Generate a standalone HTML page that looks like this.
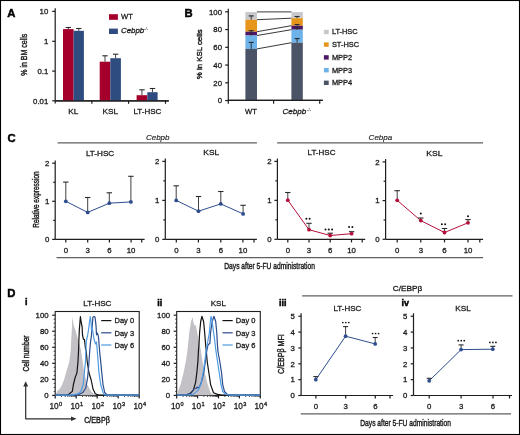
<!DOCTYPE html>
<html><head><meta charset="utf-8"><title>Figure</title>
<style>
html,body{margin:0;padding:0;background:#fff;}
body{width:520px;height:435px;overflow:hidden;}
svg{display:block;font-family:"Liberation Sans", sans-serif;will-change:transform;}
text{stroke-width:0.3px;paint-order:stroke;}
.cond{stroke-width:0.42px;}
.thin{stroke-width:0.15px;}
.bl{stroke-width:0.45px;}
</style></head>
<body>
<svg width="520" height="435" viewBox="0 0 520 435">
<rect x="0" y="0" width="520" height="435" fill="#fff"/>
<rect x="0.5" y="0.5" width="519" height="434" fill="none" stroke="#000" stroke-width="1.1"/>
<text x="7.3" y="17" font-size="11.3" font-weight="bold" fill="#000" stroke="#000" class="bl">A</text>
<line x1="55.2" y1="8.3" x2="55.2" y2="103.6" stroke="#1e1e1e" stroke-width="1.22" />
<line x1="52.2" y1="11.4" x2="55.2" y2="11.4" stroke="#1e1e1e" stroke-width="1.22" />
<text x="48.3" y="14.1" font-size="7.8" text-anchor="end" fill="#1c1c1c" stroke="#1c1c1c" >10</text>
<line x1="52.2" y1="41.3" x2="55.2" y2="41.3" stroke="#1e1e1e" stroke-width="1.22" />
<text x="48.3" y="44" font-size="7.8" text-anchor="end" fill="#1c1c1c" stroke="#1c1c1c" >1</text>
<line x1="52.2" y1="71.1" x2="55.2" y2="71.1" stroke="#1e1e1e" stroke-width="1.22" />
<text x="48.3" y="73.8" font-size="7.8" text-anchor="end" fill="#1c1c1c" stroke="#1c1c1c" >0.1</text>
<line x1="52.2" y1="100.8" x2="55.2" y2="100.8" stroke="#1e1e1e" stroke-width="1.22" />
<text x="48.3" y="103.5" font-size="7.8" text-anchor="end" fill="#1c1c1c" stroke="#1c1c1c" >0.01</text>
<line x1="55.2" y1="100.8" x2="168.8" y2="100.8" stroke="#1e1e1e" stroke-width="1.22" />
<line x1="91.9" y1="100.8" x2="91.9" y2="103.8" stroke="#1e1e1e" stroke-width="1.22" />
<line x1="128.6" y1="100.8" x2="128.6" y2="103.8" stroke="#1e1e1e" stroke-width="1.22" />
<line x1="165.5" y1="100.8" x2="165.5" y2="103.8" stroke="#1e1e1e" stroke-width="1.22" />
<rect x="63" y="29.1" width="10.6" height="71.7" fill="#a5002b"/>
<rect x="73.6" y="30.8" width="10.3" height="70" fill="#2f4c80"/>
<rect x="99.7" y="61.7" width="10.6" height="39.1" fill="#a5002b"/>
<rect x="110.3" y="58.2" width="10.6" height="42.6" fill="#2f4c80"/>
<rect x="136.6" y="95.2" width="10.7" height="5.6" fill="#a5002b"/>
<rect x="147.3" y="92.2" width="10.3" height="8.6" fill="#2f4c80"/>
<line x1="68.3" y1="29.1" x2="68.3" y2="27.5" stroke="#2a2a2a" stroke-width="0.9" />
<line x1="65.6" y1="27.5" x2="71" y2="27.5" stroke="#2a2a2a" stroke-width="1.1" />
<line x1="78.75" y1="30.8" x2="78.75" y2="28.5" stroke="#2a2a2a" stroke-width="0.9" />
<line x1="76.05" y1="28.5" x2="81.45" y2="28.5" stroke="#2a2a2a" stroke-width="1.1" />
<line x1="105" y1="61.7" x2="105" y2="55.8" stroke="#2a2a2a" stroke-width="0.9" />
<line x1="102.3" y1="55.8" x2="107.7" y2="55.8" stroke="#2a2a2a" stroke-width="1.1" />
<line x1="115.6" y1="58.2" x2="115.6" y2="54.2" stroke="#2a2a2a" stroke-width="0.9" />
<line x1="112.9" y1="54.2" x2="118.3" y2="54.2" stroke="#2a2a2a" stroke-width="1.1" />
<line x1="141.95" y1="95.2" x2="141.95" y2="89.8" stroke="#2a2a2a" stroke-width="0.9" />
<line x1="139.25" y1="89.8" x2="144.65" y2="89.8" stroke="#2a2a2a" stroke-width="1.1" />
<line x1="152.45" y1="92.2" x2="152.45" y2="88.5" stroke="#2a2a2a" stroke-width="0.9" />
<line x1="149.75" y1="88.5" x2="155.15" y2="88.5" stroke="#2a2a2a" stroke-width="1.1" />
<line x1="55.2" y1="100.8" x2="168.8" y2="100.8" stroke="#1e1e1e" stroke-width="1.22" />
<text x="73.3" y="113.7" font-size="8" text-anchor="middle" textLength="9.9" lengthAdjust="spacingAndGlyphs" fill="#1c1c1c" stroke="#1c1c1c" >KL</text>
<text x="110.3" y="113.7" font-size="8" text-anchor="middle" textLength="15.5" lengthAdjust="spacingAndGlyphs" fill="#1c1c1c" stroke="#1c1c1c" >KSL</text>
<text x="147.4" y="113.7" font-size="8" text-anchor="middle" textLength="27.8" lengthAdjust="spacingAndGlyphs" fill="#1c1c1c" stroke="#1c1c1c" >LT-HSC</text>
<rect x="109" y="14.2" width="8.9" height="5.6" fill="#a5002b"/>
<text x="121" y="18.8" font-size="7.6" fill="#1c1c1c" stroke="#1c1c1c" >WT</text>
<rect x="109" y="28.6" width="8.9" height="5.4" fill="#2f4c80"/>
<text x="121" y="32.9" font-size="7.9" font-style="italic" fill="#1c1c1c" stroke="#1c1c1c" >Cebpb</text>
<text x="144.1" y="29.6" font-size="4.4" fill="#666" stroke="#666" class="thin">-/-</text>
<text transform="translate(27.4,54.7) rotate(-90)" x="0" y="0" font-size="9.6" text-anchor="middle" textLength="42" lengthAdjust="spacingAndGlyphs" fill="#1c1c1c" stroke="#1c1c1c" class="cond">% in BM cells</text>
<text x="184.5" y="17.2" font-size="11.3" font-weight="bold" fill="#000" stroke="#000" class="bl">B</text>
<line x1="228.3" y1="8.7" x2="228.3" y2="103.7" stroke="#1e1e1e" stroke-width="1.22" />
<line x1="225.2" y1="11.8" x2="228.3" y2="11.8" stroke="#1e1e1e" stroke-width="1.22" />
<text x="222" y="14.6" font-size="7.8" text-anchor="end" fill="#1c1c1c" stroke="#1c1c1c" >100</text>
<line x1="225.2" y1="29.55" x2="228.3" y2="29.55" stroke="#1e1e1e" stroke-width="1.22" />
<text x="222" y="32.35" font-size="7.8" text-anchor="end" fill="#1c1c1c" stroke="#1c1c1c" >80</text>
<line x1="225.2" y1="47.3" x2="228.3" y2="47.3" stroke="#1e1e1e" stroke-width="1.22" />
<text x="222" y="50.1" font-size="7.8" text-anchor="end" fill="#1c1c1c" stroke="#1c1c1c" >60</text>
<line x1="225.2" y1="65.05" x2="228.3" y2="65.05" stroke="#1e1e1e" stroke-width="1.22" />
<text x="222" y="67.85" font-size="7.8" text-anchor="end" fill="#1c1c1c" stroke="#1c1c1c" >40</text>
<line x1="225.2" y1="82.8" x2="228.3" y2="82.8" stroke="#1e1e1e" stroke-width="1.22" />
<text x="222" y="85.6" font-size="7.8" text-anchor="end" fill="#1c1c1c" stroke="#1c1c1c" >20</text>
<line x1="225.2" y1="100.55" x2="228.3" y2="100.55" stroke="#1e1e1e" stroke-width="1.22" />
<text x="222" y="103.35" font-size="7.8" text-anchor="end" fill="#1c1c1c" stroke="#1c1c1c" >0</text>
<line x1="228.3" y1="100.4" x2="322.8" y2="100.4" stroke="#1e1e1e" stroke-width="1.22" />
<line x1="273.6" y1="100.4" x2="273.6" y2="103.7" stroke="#1e1e1e" stroke-width="1.22" />
<line x1="319.7" y1="100.4" x2="319.7" y2="103.7" stroke="#1e1e1e" stroke-width="1.22" />
<rect x="245.4" y="12.1" width="11.6" height="7.6" fill="#c8c7cc"/>
<rect x="245.4" y="19.7" width="11.6" height="12" fill="#e8951c"/>
<rect x="245.4" y="31.7" width="11.6" height="3.8" fill="#4b1766"/>
<rect x="245.4" y="35.5" width="11.6" height="13.4" fill="#6db2e8"/>
<rect x="245.4" y="48.9" width="11.6" height="51.5" fill="#4b5366"/>
<rect x="291.4" y="12.1" width="11.4" height="6.1" fill="#c8c7cc"/>
<rect x="291.4" y="18.2" width="11.4" height="7.5" fill="#e8951c"/>
<rect x="291.4" y="25.7" width="11.4" height="4" fill="#4b1766"/>
<rect x="291.4" y="29.7" width="11.4" height="13" fill="#6db2e8"/>
<rect x="291.4" y="42.7" width="11.4" height="57.7" fill="#4b5366"/>
<line x1="251.2" y1="19.7" x2="251.2" y2="15.9" stroke="#2a2a2a" stroke-width="0.9" />
<line x1="248.7" y1="15.9" x2="253.7" y2="15.9" stroke="#2a2a2a" stroke-width="1.1" />
<line x1="251.2" y1="35.5" x2="251.2" y2="30.7" stroke="#2a2a2a" stroke-width="0.9" />
<line x1="248.7" y1="30.7" x2="253.7" y2="30.7" stroke="#2a2a2a" stroke-width="1.1" />
<line x1="251.2" y1="48.9" x2="251.2" y2="42.4" stroke="#2a2a2a" stroke-width="0.9" />
<line x1="248.7" y1="42.4" x2="253.7" y2="42.4" stroke="#2a2a2a" stroke-width="1.1" />
<line x1="297.1" y1="18.2" x2="297.1" y2="16.5" stroke="#2a2a2a" stroke-width="0.9" />
<line x1="294.6" y1="16.5" x2="299.6" y2="16.5" stroke="#2a2a2a" stroke-width="1.1" />
<line x1="297.1" y1="25.7" x2="297.1" y2="24.5" stroke="#2a2a2a" stroke-width="0.9" />
<line x1="294.6" y1="24.5" x2="299.6" y2="24.5" stroke="#2a2a2a" stroke-width="1.1" />
<line x1="297.1" y1="29.7" x2="297.1" y2="28" stroke="#2a2a2a" stroke-width="0.9" />
<line x1="294.6" y1="28" x2="299.6" y2="28" stroke="#2a2a2a" stroke-width="1.1" />
<line x1="297.1" y1="42.7" x2="297.1" y2="38.6" stroke="#2a2a2a" stroke-width="0.9" />
<line x1="294.6" y1="38.6" x2="299.6" y2="38.6" stroke="#2a2a2a" stroke-width="1.1" />
<line x1="257" y1="11.9" x2="291.4" y2="11.9" stroke="#222" stroke-width="0.9" />
<line x1="257" y1="19.7" x2="291.4" y2="18.2" stroke="#222" stroke-width="0.9" />
<line x1="257" y1="31.7" x2="291.4" y2="25.7" stroke="#222" stroke-width="0.9" />
<line x1="257" y1="35.5" x2="291.4" y2="29.7" stroke="#222" stroke-width="0.9" />
<line x1="257" y1="48.9" x2="291.4" y2="42.7" stroke="#222" stroke-width="0.9" />
<line x1="228.3" y1="100.4" x2="322.8" y2="100.4" stroke="#1e1e1e" stroke-width="1.22" />
<text x="251" y="113.8" font-size="7.6" text-anchor="middle" fill="#1c1c1c" stroke="#1c1c1c" >WT</text>
<text x="282.5" y="113.9" font-size="8.1" font-style="italic" fill="#1c1c1c" stroke="#1c1c1c" >Cebpb</text>
<text x="307" y="110.5" font-size="4.4" fill="#666" stroke="#666" class="thin">-/-</text>
<rect x="323.9" y="29.8" width="4.8" height="4.4" fill="#c8c7cc"/>
<text x="331.9" y="34.3" font-size="7.4" fill="#1c1c1c" stroke="#1c1c1c" >LT-HSC</text>
<rect x="323.9" y="42.4" width="4.8" height="4.4" fill="#e8951c"/>
<text x="331.9" y="46.9" font-size="7.4" fill="#1c1c1c" stroke="#1c1c1c" >ST-HSC</text>
<rect x="323.9" y="55.2" width="4.8" height="4.4" fill="#4b1766"/>
<text x="331.9" y="59.7" font-size="7.4" fill="#1c1c1c" stroke="#1c1c1c" >MPP2</text>
<rect x="323.9" y="68" width="4.8" height="4.4" fill="#6db2e8"/>
<text x="331.9" y="72.5" font-size="7.4" fill="#1c1c1c" stroke="#1c1c1c" >MPP3</text>
<rect x="323.9" y="80.6" width="4.8" height="4.4" fill="#4b5366"/>
<text x="331.9" y="85.1" font-size="7.4" fill="#1c1c1c" stroke="#1c1c1c" >MPP4</text>
<text transform="translate(202.4,54.3) rotate(-90)" x="0" y="0" font-size="7.8" text-anchor="middle" textLength="49.8" lengthAdjust="spacingAndGlyphs" fill="#1c1c1c" stroke="#1c1c1c" class="cond">% in KSL cells</text>
<text x="7.5" y="141.8" font-size="11.3" font-weight="bold" fill="#000" stroke="#000" class="bl">C</text>
<line x1="57.6" y1="142.8" x2="256.9" y2="142.8" stroke="#606060" stroke-width="1.3" />
<line x1="277.1" y1="142.8" x2="483" y2="142.8" stroke="#606060" stroke-width="1.3" />
<text x="157.7" y="140.4" font-size="8" text-anchor="middle" font-style="italic" fill="#1c1c1c" stroke="#1c1c1c" class="thin">Cebpb</text>
<text x="380.4" y="140.4" font-size="8" text-anchor="middle" font-style="italic" fill="#1c1c1c" stroke="#1c1c1c" class="thin">Cebpa</text>
<line x1="55.2" y1="160.4" x2="55.2" y2="239.4" stroke="#1e1e1e" stroke-width="1.22" />
<line x1="52.2" y1="239.4" x2="55.2" y2="239.4" stroke="#1e1e1e" stroke-width="1.22" />
<text x="49.3" y="242.2" font-size="7.8" text-anchor="end" fill="#1c1c1c" stroke="#1c1c1c" >0</text>
<line x1="53.2" y1="220.35" x2="55.2" y2="220.35" stroke="#1e1e1e" stroke-width="1.22" />
<line x1="52.2" y1="201.3" x2="55.2" y2="201.3" stroke="#1e1e1e" stroke-width="1.22" />
<text x="49.3" y="204.1" font-size="7.8" text-anchor="end" fill="#1c1c1c" stroke="#1c1c1c" >1</text>
<line x1="53.2" y1="182.25" x2="55.2" y2="182.25" stroke="#1e1e1e" stroke-width="1.22" />
<line x1="52.2" y1="163.2" x2="55.2" y2="163.2" stroke="#1e1e1e" stroke-width="1.22" />
<text x="49.3" y="166" font-size="7.8" text-anchor="end" fill="#1c1c1c" stroke="#1c1c1c" >2</text>
<line x1="55.2" y1="239.4" x2="144.6" y2="239.4" stroke="#1e1e1e" stroke-width="1.22" />
<line x1="65.8" y1="239.4" x2="65.8" y2="242.5" stroke="#1e1e1e" stroke-width="1.22" />
<line x1="87.7" y1="239.4" x2="87.7" y2="242.5" stroke="#1e1e1e" stroke-width="1.22" />
<line x1="109.4" y1="239.4" x2="109.4" y2="242.5" stroke="#1e1e1e" stroke-width="1.22" />
<line x1="131.1" y1="239.4" x2="131.1" y2="242.5" stroke="#1e1e1e" stroke-width="1.22" />
<line x1="141.7" y1="239.4" x2="141.7" y2="242.5" stroke="#1e1e1e" stroke-width="1.22" />
<text x="65.8" y="253" font-size="7.8" text-anchor="middle" fill="#1c1c1c" stroke="#1c1c1c" >0</text>
<text x="87.7" y="253" font-size="7.8" text-anchor="middle" fill="#1c1c1c" stroke="#1c1c1c" >3</text>
<text x="109.4" y="253" font-size="7.8" text-anchor="middle" fill="#1c1c1c" stroke="#1c1c1c" >6</text>
<text x="131.1" y="253" font-size="7.8" text-anchor="middle" fill="#1c1c1c" stroke="#1c1c1c" >10</text>
<text x="100.1" y="156.1" font-size="7.9" text-anchor="middle" textLength="28.3" lengthAdjust="spacingAndGlyphs" fill="#1c1c1c" stroke="#1c1c1c" >LT-HSC</text>
<polyline points="65.8,201.3 87.7,212.4 109.3,203.2 130.9,201.9" fill="none" stroke="#2e4d8e" stroke-width="1" stroke-linejoin="round" />
<line x1="65.8" y1="201.3" x2="65.8" y2="182.1" stroke="#2a2a2a" stroke-width="0.9" />
<line x1="63.1" y1="182.1" x2="68.5" y2="182.1" stroke="#2a2a2a" stroke-width="1.1" />
<line x1="87.7" y1="212.4" x2="87.7" y2="197.5" stroke="#2a2a2a" stroke-width="0.9" />
<line x1="85" y1="197.5" x2="90.4" y2="197.5" stroke="#2a2a2a" stroke-width="1.1" />
<line x1="109.3" y1="203.2" x2="109.3" y2="192.8" stroke="#2a2a2a" stroke-width="0.9" />
<line x1="106.6" y1="192.8" x2="112" y2="192.8" stroke="#2a2a2a" stroke-width="1.1" />
<line x1="130.9" y1="201.9" x2="130.9" y2="176.3" stroke="#2a2a2a" stroke-width="0.9" />
<line x1="128.2" y1="176.3" x2="133.6" y2="176.3" stroke="#2a2a2a" stroke-width="1.1" />
<circle cx="65.8" cy="201.3" r="1.9" fill="#2e4d8e"/>
<circle cx="87.7" cy="212.4" r="1.9" fill="#2e4d8e"/>
<circle cx="109.3" cy="203.2" r="1.9" fill="#2e4d8e"/>
<circle cx="130.9" cy="201.9" r="1.9" fill="#2e4d8e"/>
<line x1="165.3" y1="158.6" x2="165.3" y2="239.4" stroke="#1e1e1e" stroke-width="1.22" />
<line x1="162.3" y1="239.4" x2="165.3" y2="239.4" stroke="#1e1e1e" stroke-width="1.22" />
<text x="159.4" y="242.2" font-size="7.8" text-anchor="end" fill="#1c1c1c" stroke="#1c1c1c" >0</text>
<line x1="163.3" y1="219.9" x2="165.3" y2="219.9" stroke="#1e1e1e" stroke-width="1.22" />
<line x1="162.3" y1="200.4" x2="165.3" y2="200.4" stroke="#1e1e1e" stroke-width="1.22" />
<text x="159.4" y="203.2" font-size="7.8" text-anchor="end" fill="#1c1c1c" stroke="#1c1c1c" >1</text>
<line x1="163.3" y1="180.9" x2="165.3" y2="180.9" stroke="#1e1e1e" stroke-width="1.22" />
<line x1="162.3" y1="161.4" x2="165.3" y2="161.4" stroke="#1e1e1e" stroke-width="1.22" />
<text x="159.4" y="164.2" font-size="7.8" text-anchor="end" fill="#1c1c1c" stroke="#1c1c1c" >2</text>
<line x1="165.3" y1="239.4" x2="256.9" y2="239.4" stroke="#1e1e1e" stroke-width="1.22" />
<line x1="176.3" y1="239.4" x2="176.3" y2="242.5" stroke="#1e1e1e" stroke-width="1.22" />
<line x1="198.4" y1="239.4" x2="198.4" y2="242.5" stroke="#1e1e1e" stroke-width="1.22" />
<line x1="220.8" y1="239.4" x2="220.8" y2="242.5" stroke="#1e1e1e" stroke-width="1.22" />
<line x1="242.9" y1="239.4" x2="242.9" y2="242.5" stroke="#1e1e1e" stroke-width="1.22" />
<line x1="254" y1="239.4" x2="254" y2="242.5" stroke="#1e1e1e" stroke-width="1.22" />
<text x="176.3" y="253" font-size="7.8" text-anchor="middle" fill="#1c1c1c" stroke="#1c1c1c" >0</text>
<text x="198.4" y="253" font-size="7.8" text-anchor="middle" fill="#1c1c1c" stroke="#1c1c1c" >3</text>
<text x="220.8" y="253" font-size="7.8" text-anchor="middle" fill="#1c1c1c" stroke="#1c1c1c" >6</text>
<text x="242.9" y="253" font-size="7.8" text-anchor="middle" fill="#1c1c1c" stroke="#1c1c1c" >10</text>
<text x="211.3" y="154.7" font-size="7.9" text-anchor="middle" textLength="15.9" lengthAdjust="spacingAndGlyphs" fill="#1c1c1c" stroke="#1c1c1c" >KSL</text>
<polyline points="176.2,200.4 198.5,211.2 220.8,203.9 243.1,213.9" fill="none" stroke="#2e4d8e" stroke-width="1" stroke-linejoin="round" />
<line x1="176.2" y1="200.4" x2="176.2" y2="185.8" stroke="#2a2a2a" stroke-width="0.9" />
<line x1="173.5" y1="185.8" x2="178.9" y2="185.8" stroke="#2a2a2a" stroke-width="1.1" />
<line x1="198.5" y1="211.2" x2="198.5" y2="196.5" stroke="#2a2a2a" stroke-width="0.9" />
<line x1="195.8" y1="196.5" x2="201.2" y2="196.5" stroke="#2a2a2a" stroke-width="1.1" />
<line x1="220.8" y1="203.9" x2="220.8" y2="191.5" stroke="#2a2a2a" stroke-width="0.9" />
<line x1="218.1" y1="191.5" x2="223.5" y2="191.5" stroke="#2a2a2a" stroke-width="1.1" />
<line x1="243.1" y1="213.9" x2="243.1" y2="205.3" stroke="#2a2a2a" stroke-width="0.9" />
<line x1="240.4" y1="205.3" x2="245.8" y2="205.3" stroke="#2a2a2a" stroke-width="1.1" />
<circle cx="176.2" cy="200.4" r="1.9" fill="#2e4d8e"/>
<circle cx="198.5" cy="211.2" r="1.9" fill="#2e4d8e"/>
<circle cx="220.8" cy="203.9" r="1.9" fill="#2e4d8e"/>
<circle cx="243.1" cy="213.9" r="1.9" fill="#2e4d8e"/>
<line x1="277.4" y1="158.6" x2="277.4" y2="239.3" stroke="#1e1e1e" stroke-width="1.22" />
<line x1="274.4" y1="239.3" x2="277.4" y2="239.3" stroke="#1e1e1e" stroke-width="1.22" />
<text x="271.5" y="242.1" font-size="7.8" text-anchor="end" fill="#1c1c1c" stroke="#1c1c1c" >0</text>
<line x1="275.4" y1="219.83" x2="277.4" y2="219.83" stroke="#1e1e1e" stroke-width="1.22" />
<line x1="274.4" y1="200.35" x2="277.4" y2="200.35" stroke="#1e1e1e" stroke-width="1.22" />
<text x="271.5" y="203.15" font-size="7.8" text-anchor="end" fill="#1c1c1c" stroke="#1c1c1c" >1</text>
<line x1="275.4" y1="180.88" x2="277.4" y2="180.88" stroke="#1e1e1e" stroke-width="1.22" />
<line x1="274.4" y1="161.4" x2="277.4" y2="161.4" stroke="#1e1e1e" stroke-width="1.22" />
<text x="271.5" y="164.2" font-size="7.8" text-anchor="end" fill="#1c1c1c" stroke="#1c1c1c" >2</text>
<line x1="277.4" y1="239.3" x2="365.2" y2="239.3" stroke="#1e1e1e" stroke-width="1.22" />
<line x1="287.8" y1="239.3" x2="287.8" y2="242.4" stroke="#1e1e1e" stroke-width="1.22" />
<line x1="309" y1="239.3" x2="309" y2="242.4" stroke="#1e1e1e" stroke-width="1.22" />
<line x1="330.2" y1="239.3" x2="330.2" y2="242.4" stroke="#1e1e1e" stroke-width="1.22" />
<line x1="351.5" y1="239.3" x2="351.5" y2="242.4" stroke="#1e1e1e" stroke-width="1.22" />
<line x1="362.2" y1="239.3" x2="362.2" y2="242.4" stroke="#1e1e1e" stroke-width="1.22" />
<text x="287.8" y="253" font-size="7.8" text-anchor="middle" fill="#1c1c1c" stroke="#1c1c1c" >0</text>
<text x="309" y="253" font-size="7.8" text-anchor="middle" fill="#1c1c1c" stroke="#1c1c1c" >3</text>
<text x="330.2" y="253" font-size="7.8" text-anchor="middle" fill="#1c1c1c" stroke="#1c1c1c" >6</text>
<text x="351.5" y="253" font-size="7.8" text-anchor="middle" fill="#1c1c1c" stroke="#1c1c1c" >10</text>
<text x="321.5" y="154.5" font-size="7.9" text-anchor="middle" textLength="27.9" lengthAdjust="spacingAndGlyphs" fill="#1c1c1c" stroke="#1c1c1c" >LT-HSC</text>
<polyline points="287.8,200.2 309,229.7 330.2,235.5 351.6,233.7" fill="none" stroke="#b3113b" stroke-width="1" stroke-linejoin="round" />
<line x1="287.8" y1="200.2" x2="287.8" y2="192.5" stroke="#2a2a2a" stroke-width="0.9" />
<line x1="285.1" y1="192.5" x2="290.5" y2="192.5" stroke="#2a2a2a" stroke-width="1.1" />
<line x1="309" y1="229.7" x2="309" y2="223.3" stroke="#2a2a2a" stroke-width="0.9" />
<line x1="306.3" y1="223.3" x2="311.7" y2="223.3" stroke="#2a2a2a" stroke-width="1.1" />
<line x1="330.2" y1="235.5" x2="330.2" y2="233.2" stroke="#2a2a2a" stroke-width="0.9" />
<line x1="327.5" y1="233.2" x2="332.9" y2="233.2" stroke="#2a2a2a" stroke-width="1.1" />
<line x1="351.6" y1="233.7" x2="351.6" y2="231.7" stroke="#2a2a2a" stroke-width="0.9" />
<line x1="348.9" y1="231.7" x2="354.3" y2="231.7" stroke="#2a2a2a" stroke-width="1.1" />
<circle cx="287.8" cy="200.2" r="1.9" fill="#b3113b"/>
<circle cx="309" cy="229.7" r="1.9" fill="#b3113b"/>
<circle cx="330.2" cy="235.5" r="1.9" fill="#b3113b"/>
<circle cx="351.6" cy="233.7" r="1.9" fill="#b3113b"/>
<circle cx="306.35" cy="218.7" r="1" fill="#111"/>
<circle cx="309.65" cy="218.7" r="1" fill="#111"/>
<circle cx="325.5" cy="229.4" r="1" fill="#111"/>
<circle cx="328.8" cy="229.4" r="1" fill="#111"/>
<circle cx="332.1" cy="229.4" r="1" fill="#111"/>
<circle cx="349.05" cy="226.9" r="1" fill="#111"/>
<circle cx="352.35" cy="226.9" r="1" fill="#111"/>
<line x1="385.6" y1="159.1" x2="385.6" y2="239.3" stroke="#1e1e1e" stroke-width="1.22" />
<line x1="382.6" y1="239.3" x2="385.6" y2="239.3" stroke="#1e1e1e" stroke-width="1.22" />
<text x="379.7" y="242.1" font-size="7.8" text-anchor="end" fill="#1c1c1c" stroke="#1c1c1c" >0</text>
<line x1="383.6" y1="219.95" x2="385.6" y2="219.95" stroke="#1e1e1e" stroke-width="1.22" />
<line x1="382.6" y1="200.6" x2="385.6" y2="200.6" stroke="#1e1e1e" stroke-width="1.22" />
<text x="379.7" y="203.4" font-size="7.8" text-anchor="end" fill="#1c1c1c" stroke="#1c1c1c" >1</text>
<line x1="383.6" y1="181.25" x2="385.6" y2="181.25" stroke="#1e1e1e" stroke-width="1.22" />
<line x1="382.6" y1="161.9" x2="385.6" y2="161.9" stroke="#1e1e1e" stroke-width="1.22" />
<text x="379.7" y="164.7" font-size="7.8" text-anchor="end" fill="#1c1c1c" stroke="#1c1c1c" >2</text>
<line x1="385.6" y1="239.3" x2="483.1" y2="239.3" stroke="#1e1e1e" stroke-width="1.22" />
<line x1="397.2" y1="239.3" x2="397.2" y2="242.4" stroke="#1e1e1e" stroke-width="1.22" />
<line x1="420.8" y1="239.3" x2="420.8" y2="242.4" stroke="#1e1e1e" stroke-width="1.22" />
<line x1="444.5" y1="239.3" x2="444.5" y2="242.4" stroke="#1e1e1e" stroke-width="1.22" />
<line x1="468" y1="239.3" x2="468" y2="242.4" stroke="#1e1e1e" stroke-width="1.22" />
<line x1="479.8" y1="239.3" x2="479.8" y2="242.4" stroke="#1e1e1e" stroke-width="1.22" />
<text x="397.2" y="253" font-size="7.8" text-anchor="middle" fill="#1c1c1c" stroke="#1c1c1c" >0</text>
<text x="420.8" y="253" font-size="7.8" text-anchor="middle" fill="#1c1c1c" stroke="#1c1c1c" >3</text>
<text x="444.5" y="253" font-size="7.8" text-anchor="middle" fill="#1c1c1c" stroke="#1c1c1c" >6</text>
<text x="468" y="253" font-size="7.8" text-anchor="middle" fill="#1c1c1c" stroke="#1c1c1c" >10</text>
<text x="434.4" y="155.7" font-size="7.9" text-anchor="middle" textLength="16.1" lengthAdjust="spacingAndGlyphs" fill="#1c1c1c" stroke="#1c1c1c" >KSL</text>
<polyline points="397.2,200.3 420.8,220.6 444.5,232.5 468,222.8" fill="none" stroke="#b3113b" stroke-width="1" stroke-linejoin="round" />
<line x1="397.2" y1="200.3" x2="397.2" y2="190.7" stroke="#2a2a2a" stroke-width="0.9" />
<line x1="394.5" y1="190.7" x2="399.9" y2="190.7" stroke="#2a2a2a" stroke-width="1.1" />
<line x1="420.8" y1="220.6" x2="420.8" y2="218" stroke="#2a2a2a" stroke-width="0.9" />
<line x1="418.1" y1="218" x2="423.5" y2="218" stroke="#2a2a2a" stroke-width="1.1" />
<line x1="444.5" y1="232.5" x2="444.5" y2="228.5" stroke="#2a2a2a" stroke-width="0.9" />
<line x1="441.8" y1="228.5" x2="447.2" y2="228.5" stroke="#2a2a2a" stroke-width="1.1" />
<line x1="468" y1="222.8" x2="468" y2="219.6" stroke="#2a2a2a" stroke-width="0.9" />
<line x1="465.3" y1="219.6" x2="470.7" y2="219.6" stroke="#2a2a2a" stroke-width="1.1" />
<circle cx="397.2" cy="200.3" r="1.9" fill="#b3113b"/>
<circle cx="420.8" cy="220.6" r="1.9" fill="#b3113b"/>
<circle cx="444.5" cy="232.5" r="1.9" fill="#b3113b"/>
<circle cx="468" cy="222.8" r="1.9" fill="#b3113b"/>
<circle cx="420.8" cy="213.5" r="1" fill="#111"/>
<circle cx="441.85" cy="224.3" r="1" fill="#111"/>
<circle cx="445.15" cy="224.3" r="1" fill="#111"/>
<circle cx="468" cy="216.2" r="1" fill="#111"/>
<text transform="translate(39,199.6) rotate(-90)" x="0" y="0" font-size="9" text-anchor="middle" textLength="56.4" lengthAdjust="spacingAndGlyphs" fill="#1c1c1c" stroke="#1c1c1c" class="cond">Relative expression</text>
<line x1="56.5" y1="257.7" x2="483.1" y2="257.7" stroke="#606060" stroke-width="1.3" />
<text x="269.6" y="268.9" font-size="9.4" text-anchor="middle" textLength="90.6" lengthAdjust="spacingAndGlyphs" fill="#1c1c1c" stroke="#1c1c1c" class="cond">Days after 5-FU administration</text>
<text x="7.3" y="297.3" font-size="11.3" font-weight="bold" fill="#000" stroke="#000" class="bl">D</text>
<text x="25" y="305.4" font-size="9" font-weight="bold" fill="#000" stroke="#000" class="bl">i</text>
<text x="157.2" y="305.6" font-size="9" font-weight="bold" fill="#000" stroke="#000" class="bl">ii</text>
<text x="279.1" y="305.6" font-size="9" font-weight="bold" fill="#000" stroke="#000" class="bl">iii</text>
<text x="401.4" y="305.8" font-size="9" font-weight="bold" fill="#000" stroke="#000" class="bl">iv</text>
<rect x="55.2" y="311.5" width="84" height="83.9" fill="none" stroke="#1e1e1e" stroke-width="1.1"/>
<line x1="52.2" y1="395.4" x2="55.2" y2="395.4" stroke="#1e1e1e" stroke-width="1.22" />
<text x="48.6" y="397.8" font-size="7.8" text-anchor="end" fill="#1c1c1c" stroke="#1c1c1c" >0</text>
<line x1="53.6" y1="391.39" x2="55.2" y2="391.39" stroke="#1e1e1e" stroke-width="0.8" />
<line x1="53.6" y1="387.38" x2="55.2" y2="387.38" stroke="#1e1e1e" stroke-width="0.8" />
<line x1="53.6" y1="383.37" x2="55.2" y2="383.37" stroke="#1e1e1e" stroke-width="0.8" />
<line x1="52.2" y1="379.36" x2="55.2" y2="379.36" stroke="#1e1e1e" stroke-width="1.22" />
<text x="48.6" y="381.76" font-size="7.8" text-anchor="end" fill="#1c1c1c" stroke="#1c1c1c" >20</text>
<line x1="53.6" y1="375.35" x2="55.2" y2="375.35" stroke="#1e1e1e" stroke-width="0.8" />
<line x1="53.6" y1="371.34" x2="55.2" y2="371.34" stroke="#1e1e1e" stroke-width="0.8" />
<line x1="53.6" y1="367.33" x2="55.2" y2="367.33" stroke="#1e1e1e" stroke-width="0.8" />
<line x1="52.2" y1="363.32" x2="55.2" y2="363.32" stroke="#1e1e1e" stroke-width="1.22" />
<text x="48.6" y="365.72" font-size="7.8" text-anchor="end" fill="#1c1c1c" stroke="#1c1c1c" >40</text>
<line x1="53.6" y1="359.31" x2="55.2" y2="359.31" stroke="#1e1e1e" stroke-width="0.8" />
<line x1="53.6" y1="355.3" x2="55.2" y2="355.3" stroke="#1e1e1e" stroke-width="0.8" />
<line x1="53.6" y1="351.29" x2="55.2" y2="351.29" stroke="#1e1e1e" stroke-width="0.8" />
<line x1="52.2" y1="347.28" x2="55.2" y2="347.28" stroke="#1e1e1e" stroke-width="1.22" />
<text x="48.6" y="349.68" font-size="7.8" text-anchor="end" fill="#1c1c1c" stroke="#1c1c1c" >60</text>
<line x1="53.6" y1="343.27" x2="55.2" y2="343.27" stroke="#1e1e1e" stroke-width="0.8" />
<line x1="53.6" y1="339.26" x2="55.2" y2="339.26" stroke="#1e1e1e" stroke-width="0.8" />
<line x1="53.6" y1="335.25" x2="55.2" y2="335.25" stroke="#1e1e1e" stroke-width="0.8" />
<line x1="52.2" y1="331.24" x2="55.2" y2="331.24" stroke="#1e1e1e" stroke-width="1.22" />
<text x="48.6" y="333.64" font-size="7.8" text-anchor="end" fill="#1c1c1c" stroke="#1c1c1c" >80</text>
<line x1="53.6" y1="327.23" x2="55.2" y2="327.23" stroke="#1e1e1e" stroke-width="0.8" />
<line x1="53.6" y1="323.22" x2="55.2" y2="323.22" stroke="#1e1e1e" stroke-width="0.8" />
<line x1="53.6" y1="319.21" x2="55.2" y2="319.21" stroke="#1e1e1e" stroke-width="0.8" />
<line x1="52.2" y1="315.2" x2="55.2" y2="315.2" stroke="#1e1e1e" stroke-width="1.22" />
<text x="48.6" y="317.6" font-size="7.8" text-anchor="end" fill="#1c1c1c" stroke="#1c1c1c" >100</text>
<line x1="55.2" y1="395.4" x2="55.2" y2="398.4" stroke="#1e1e1e" stroke-width="1.22" />
<line x1="61.52" y1="395.4" x2="61.52" y2="397" stroke="#1e1e1e" stroke-width="0.8" />
<line x1="65.22" y1="395.4" x2="65.22" y2="397" stroke="#1e1e1e" stroke-width="0.8" />
<line x1="67.84" y1="395.4" x2="67.84" y2="397" stroke="#1e1e1e" stroke-width="0.8" />
<line x1="69.88" y1="395.4" x2="69.88" y2="397" stroke="#1e1e1e" stroke-width="0.8" />
<line x1="71.54" y1="395.4" x2="71.54" y2="397" stroke="#1e1e1e" stroke-width="0.8" />
<line x1="72.95" y1="395.4" x2="72.95" y2="397" stroke="#1e1e1e" stroke-width="0.8" />
<line x1="74.16" y1="395.4" x2="74.16" y2="397" stroke="#1e1e1e" stroke-width="0.8" />
<line x1="75.24" y1="395.4" x2="75.24" y2="397" stroke="#1e1e1e" stroke-width="0.8" />
<line x1="76.2" y1="395.4" x2="76.2" y2="398.4" stroke="#1e1e1e" stroke-width="1.22" />
<line x1="82.52" y1="395.4" x2="82.52" y2="397" stroke="#1e1e1e" stroke-width="0.8" />
<line x1="86.22" y1="395.4" x2="86.22" y2="397" stroke="#1e1e1e" stroke-width="0.8" />
<line x1="88.84" y1="395.4" x2="88.84" y2="397" stroke="#1e1e1e" stroke-width="0.8" />
<line x1="90.88" y1="395.4" x2="90.88" y2="397" stroke="#1e1e1e" stroke-width="0.8" />
<line x1="92.54" y1="395.4" x2="92.54" y2="397" stroke="#1e1e1e" stroke-width="0.8" />
<line x1="93.95" y1="395.4" x2="93.95" y2="397" stroke="#1e1e1e" stroke-width="0.8" />
<line x1="95.16" y1="395.4" x2="95.16" y2="397" stroke="#1e1e1e" stroke-width="0.8" />
<line x1="96.24" y1="395.4" x2="96.24" y2="397" stroke="#1e1e1e" stroke-width="0.8" />
<line x1="97.2" y1="395.4" x2="97.2" y2="398.4" stroke="#1e1e1e" stroke-width="1.22" />
<line x1="103.52" y1="395.4" x2="103.52" y2="397" stroke="#1e1e1e" stroke-width="0.8" />
<line x1="107.22" y1="395.4" x2="107.22" y2="397" stroke="#1e1e1e" stroke-width="0.8" />
<line x1="109.84" y1="395.4" x2="109.84" y2="397" stroke="#1e1e1e" stroke-width="0.8" />
<line x1="111.88" y1="395.4" x2="111.88" y2="397" stroke="#1e1e1e" stroke-width="0.8" />
<line x1="113.54" y1="395.4" x2="113.54" y2="397" stroke="#1e1e1e" stroke-width="0.8" />
<line x1="114.95" y1="395.4" x2="114.95" y2="397" stroke="#1e1e1e" stroke-width="0.8" />
<line x1="116.16" y1="395.4" x2="116.16" y2="397" stroke="#1e1e1e" stroke-width="0.8" />
<line x1="117.24" y1="395.4" x2="117.24" y2="397" stroke="#1e1e1e" stroke-width="0.8" />
<line x1="118.2" y1="395.4" x2="118.2" y2="398.4" stroke="#1e1e1e" stroke-width="1.22" />
<line x1="124.52" y1="395.4" x2="124.52" y2="397" stroke="#1e1e1e" stroke-width="0.8" />
<line x1="128.22" y1="395.4" x2="128.22" y2="397" stroke="#1e1e1e" stroke-width="0.8" />
<line x1="130.84" y1="395.4" x2="130.84" y2="397" stroke="#1e1e1e" stroke-width="0.8" />
<line x1="132.88" y1="395.4" x2="132.88" y2="397" stroke="#1e1e1e" stroke-width="0.8" />
<line x1="134.54" y1="395.4" x2="134.54" y2="397" stroke="#1e1e1e" stroke-width="0.8" />
<line x1="135.95" y1="395.4" x2="135.95" y2="397" stroke="#1e1e1e" stroke-width="0.8" />
<line x1="137.16" y1="395.4" x2="137.16" y2="397" stroke="#1e1e1e" stroke-width="0.8" />
<line x1="138.24" y1="395.4" x2="138.24" y2="397" stroke="#1e1e1e" stroke-width="0.8" />
<line x1="139.2" y1="395.4" x2="139.2" y2="398.4" stroke="#1e1e1e" stroke-width="1.22" />
<text x="54" y="408.7" font-size="8.2" text-anchor="middle" fill="#1c1c1c" stroke="#1c1c1c" >10</text>
<text x="59" y="405.6" font-size="5.6" fill="#1c1c1c" stroke="#1c1c1c" >0</text>
<text x="75" y="408.7" font-size="8.2" text-anchor="middle" fill="#1c1c1c" stroke="#1c1c1c" >10</text>
<text x="80" y="405.6" font-size="5.6" fill="#1c1c1c" stroke="#1c1c1c" >1</text>
<text x="96" y="408.7" font-size="8.2" text-anchor="middle" fill="#1c1c1c" stroke="#1c1c1c" >10</text>
<text x="101" y="405.6" font-size="5.6" fill="#1c1c1c" stroke="#1c1c1c" >2</text>
<text x="117" y="408.7" font-size="8.2" text-anchor="middle" fill="#1c1c1c" stroke="#1c1c1c" >10</text>
<text x="122" y="405.6" font-size="5.6" fill="#1c1c1c" stroke="#1c1c1c" >3</text>
<text x="138" y="408.7" font-size="8.2" text-anchor="middle" fill="#1c1c1c" stroke="#1c1c1c" >10</text>
<text x="143" y="405.6" font-size="5.6" fill="#1c1c1c" stroke="#1c1c1c" >4</text>
<text x="97.4" y="306.2" font-size="7.9" text-anchor="middle" textLength="28.1" lengthAdjust="spacingAndGlyphs" fill="#1c1c1c" stroke="#1c1c1c" >LT-HSC</text>
<polygon points="55.6,395.2 56.2,393.2 57.3,391 59.6,389 61.5,386 64,380 66.6,370.7 69.3,361.5 70.6,352 71.2,340 71.8,330.4 72.1,322 72.4,317 73.8,325.8 75.6,330.4 77.3,337 79,343 81,350 82.6,361.5 84.3,373 87.2,384.5 91.2,391.4 94.1,394.3 96.5,395.2" fill="#c3c1c6" stroke="none" />
<polyline points="55.6,395.2 66,395.1 68.8,394.3 72.3,391.4 73.4,384.5 75.1,377.6 76.9,373 78,361.5 78.6,350 78.9,339.6 79.3,330.4 79.8,324 80.4,316.6 81.3,323 82.1,326.7 82.5,335 83.4,339.1 84.4,339.6 84.8,342.3 85.5,348.8 86.1,350 87.2,361.5 89,373 91.2,380 93,389 95.3,393.7 98.5,395.1 139,395.2" fill="none" stroke="#121212" stroke-width="1.2" stroke-linejoin="round" />
<polyline points="55.6,395.2 75,395.1 79.2,394.3 82.9,392.5 85.7,388 87.5,378.7 88.6,367 89.8,350 90.5,342 91.4,335.8 92.3,325 92.9,317.2 94,316.4 95,317 95.6,322 96,325.5 96.5,334.8 97.3,333 98.1,335.3 98.6,338 99.5,350 100.7,361.5 101.8,373 103,384.5 104.7,392.5 107,394.8 111,395.2 139,395.2" fill="none" stroke="#2b4b8b" stroke-width="1.2" stroke-linejoin="round" />
<polyline points="55.6,395.2 72,395.1 78,393.8 80.9,391.4 83.2,384.5 84.3,373 85.5,361.5 86,350 86.3,341 87.5,336 88.5,330 89.5,322 90.3,316.7 91,322 91.5,330 92.3,328 93,333 94,339 95.5,344 96.5,342 97.2,350 99,373 100.7,384.5 103,392.5 104.7,394.8 108,395.2 139,395.2" fill="none" stroke="#4f9ae0" stroke-width="1.2" stroke-linejoin="round" />
<line x1="101.2" y1="320.6" x2="111.4" y2="320.6" stroke="#121212" stroke-width="1.2" />
<text x="114.5" y="323.4" font-size="7.5" fill="#1c1c1c" stroke="#1c1c1c" >Day 0</text>
<line x1="101.2" y1="332.8" x2="111.4" y2="332.8" stroke="#2b4b8b" stroke-width="1.2" />
<text x="114.5" y="335.6" font-size="7.5" fill="#1c1c1c" stroke="#1c1c1c" >Day 3</text>
<line x1="101.2" y1="345" x2="111.4" y2="345" stroke="#4f9ae0" stroke-width="1.2" />
<text x="114.5" y="347.8" font-size="7.5" fill="#1c1c1c" stroke="#1c1c1c" >Day 6</text>
<rect x="176.7" y="311.5" width="83.6" height="83.9" fill="none" stroke="#1e1e1e" stroke-width="1.1"/>
<line x1="173.7" y1="395.4" x2="176.7" y2="395.4" stroke="#1e1e1e" stroke-width="1.22" />
<text x="170.1" y="397.8" font-size="7.8" text-anchor="end" fill="#1c1c1c" stroke="#1c1c1c" >0</text>
<line x1="175.1" y1="391.39" x2="176.7" y2="391.39" stroke="#1e1e1e" stroke-width="0.8" />
<line x1="175.1" y1="387.38" x2="176.7" y2="387.38" stroke="#1e1e1e" stroke-width="0.8" />
<line x1="175.1" y1="383.37" x2="176.7" y2="383.37" stroke="#1e1e1e" stroke-width="0.8" />
<line x1="173.7" y1="379.36" x2="176.7" y2="379.36" stroke="#1e1e1e" stroke-width="1.22" />
<text x="170.1" y="381.76" font-size="7.8" text-anchor="end" fill="#1c1c1c" stroke="#1c1c1c" >20</text>
<line x1="175.1" y1="375.35" x2="176.7" y2="375.35" stroke="#1e1e1e" stroke-width="0.8" />
<line x1="175.1" y1="371.34" x2="176.7" y2="371.34" stroke="#1e1e1e" stroke-width="0.8" />
<line x1="175.1" y1="367.33" x2="176.7" y2="367.33" stroke="#1e1e1e" stroke-width="0.8" />
<line x1="173.7" y1="363.32" x2="176.7" y2="363.32" stroke="#1e1e1e" stroke-width="1.22" />
<text x="170.1" y="365.72" font-size="7.8" text-anchor="end" fill="#1c1c1c" stroke="#1c1c1c" >40</text>
<line x1="175.1" y1="359.31" x2="176.7" y2="359.31" stroke="#1e1e1e" stroke-width="0.8" />
<line x1="175.1" y1="355.3" x2="176.7" y2="355.3" stroke="#1e1e1e" stroke-width="0.8" />
<line x1="175.1" y1="351.29" x2="176.7" y2="351.29" stroke="#1e1e1e" stroke-width="0.8" />
<line x1="173.7" y1="347.28" x2="176.7" y2="347.28" stroke="#1e1e1e" stroke-width="1.22" />
<text x="170.1" y="349.68" font-size="7.8" text-anchor="end" fill="#1c1c1c" stroke="#1c1c1c" >60</text>
<line x1="175.1" y1="343.27" x2="176.7" y2="343.27" stroke="#1e1e1e" stroke-width="0.8" />
<line x1="175.1" y1="339.26" x2="176.7" y2="339.26" stroke="#1e1e1e" stroke-width="0.8" />
<line x1="175.1" y1="335.25" x2="176.7" y2="335.25" stroke="#1e1e1e" stroke-width="0.8" />
<line x1="173.7" y1="331.24" x2="176.7" y2="331.24" stroke="#1e1e1e" stroke-width="1.22" />
<text x="170.1" y="333.64" font-size="7.8" text-anchor="end" fill="#1c1c1c" stroke="#1c1c1c" >80</text>
<line x1="175.1" y1="327.23" x2="176.7" y2="327.23" stroke="#1e1e1e" stroke-width="0.8" />
<line x1="175.1" y1="323.22" x2="176.7" y2="323.22" stroke="#1e1e1e" stroke-width="0.8" />
<line x1="175.1" y1="319.21" x2="176.7" y2="319.21" stroke="#1e1e1e" stroke-width="0.8" />
<line x1="173.7" y1="315.2" x2="176.7" y2="315.2" stroke="#1e1e1e" stroke-width="1.22" />
<text x="170.1" y="317.6" font-size="7.8" text-anchor="end" fill="#1c1c1c" stroke="#1c1c1c" >100</text>
<line x1="176.7" y1="395.4" x2="176.7" y2="398.4" stroke="#1e1e1e" stroke-width="1.22" />
<line x1="182.99" y1="395.4" x2="182.99" y2="397" stroke="#1e1e1e" stroke-width="0.8" />
<line x1="186.67" y1="395.4" x2="186.67" y2="397" stroke="#1e1e1e" stroke-width="0.8" />
<line x1="189.28" y1="395.4" x2="189.28" y2="397" stroke="#1e1e1e" stroke-width="0.8" />
<line x1="191.31" y1="395.4" x2="191.31" y2="397" stroke="#1e1e1e" stroke-width="0.8" />
<line x1="192.96" y1="395.4" x2="192.96" y2="397" stroke="#1e1e1e" stroke-width="0.8" />
<line x1="194.36" y1="395.4" x2="194.36" y2="397" stroke="#1e1e1e" stroke-width="0.8" />
<line x1="195.57" y1="395.4" x2="195.57" y2="397" stroke="#1e1e1e" stroke-width="0.8" />
<line x1="196.64" y1="395.4" x2="196.64" y2="397" stroke="#1e1e1e" stroke-width="0.8" />
<line x1="197.6" y1="395.4" x2="197.6" y2="398.4" stroke="#1e1e1e" stroke-width="1.22" />
<line x1="203.89" y1="395.4" x2="203.89" y2="397" stroke="#1e1e1e" stroke-width="0.8" />
<line x1="207.57" y1="395.4" x2="207.57" y2="397" stroke="#1e1e1e" stroke-width="0.8" />
<line x1="210.18" y1="395.4" x2="210.18" y2="397" stroke="#1e1e1e" stroke-width="0.8" />
<line x1="212.21" y1="395.4" x2="212.21" y2="397" stroke="#1e1e1e" stroke-width="0.8" />
<line x1="213.86" y1="395.4" x2="213.86" y2="397" stroke="#1e1e1e" stroke-width="0.8" />
<line x1="215.26" y1="395.4" x2="215.26" y2="397" stroke="#1e1e1e" stroke-width="0.8" />
<line x1="216.47" y1="395.4" x2="216.47" y2="397" stroke="#1e1e1e" stroke-width="0.8" />
<line x1="217.54" y1="395.4" x2="217.54" y2="397" stroke="#1e1e1e" stroke-width="0.8" />
<line x1="218.5" y1="395.4" x2="218.5" y2="398.4" stroke="#1e1e1e" stroke-width="1.22" />
<line x1="224.79" y1="395.4" x2="224.79" y2="397" stroke="#1e1e1e" stroke-width="0.8" />
<line x1="228.47" y1="395.4" x2="228.47" y2="397" stroke="#1e1e1e" stroke-width="0.8" />
<line x1="231.08" y1="395.4" x2="231.08" y2="397" stroke="#1e1e1e" stroke-width="0.8" />
<line x1="233.11" y1="395.4" x2="233.11" y2="397" stroke="#1e1e1e" stroke-width="0.8" />
<line x1="234.76" y1="395.4" x2="234.76" y2="397" stroke="#1e1e1e" stroke-width="0.8" />
<line x1="236.16" y1="395.4" x2="236.16" y2="397" stroke="#1e1e1e" stroke-width="0.8" />
<line x1="237.37" y1="395.4" x2="237.37" y2="397" stroke="#1e1e1e" stroke-width="0.8" />
<line x1="238.44" y1="395.4" x2="238.44" y2="397" stroke="#1e1e1e" stroke-width="0.8" />
<line x1="239.4" y1="395.4" x2="239.4" y2="398.4" stroke="#1e1e1e" stroke-width="1.22" />
<line x1="245.69" y1="395.4" x2="245.69" y2="397" stroke="#1e1e1e" stroke-width="0.8" />
<line x1="249.37" y1="395.4" x2="249.37" y2="397" stroke="#1e1e1e" stroke-width="0.8" />
<line x1="251.98" y1="395.4" x2="251.98" y2="397" stroke="#1e1e1e" stroke-width="0.8" />
<line x1="254.01" y1="395.4" x2="254.01" y2="397" stroke="#1e1e1e" stroke-width="0.8" />
<line x1="255.66" y1="395.4" x2="255.66" y2="397" stroke="#1e1e1e" stroke-width="0.8" />
<line x1="257.06" y1="395.4" x2="257.06" y2="397" stroke="#1e1e1e" stroke-width="0.8" />
<line x1="258.27" y1="395.4" x2="258.27" y2="397" stroke="#1e1e1e" stroke-width="0.8" />
<line x1="259.34" y1="395.4" x2="259.34" y2="397" stroke="#1e1e1e" stroke-width="0.8" />
<line x1="260.3" y1="395.4" x2="260.3" y2="398.4" stroke="#1e1e1e" stroke-width="1.22" />
<text x="175.5" y="408.7" font-size="8.2" text-anchor="middle" fill="#1c1c1c" stroke="#1c1c1c" >10</text>
<text x="180.5" y="405.6" font-size="5.6" fill="#1c1c1c" stroke="#1c1c1c" >0</text>
<text x="196.4" y="408.7" font-size="8.2" text-anchor="middle" fill="#1c1c1c" stroke="#1c1c1c" >10</text>
<text x="201.4" y="405.6" font-size="5.6" fill="#1c1c1c" stroke="#1c1c1c" >1</text>
<text x="217.3" y="408.7" font-size="8.2" text-anchor="middle" fill="#1c1c1c" stroke="#1c1c1c" >10</text>
<text x="222.3" y="405.6" font-size="5.6" fill="#1c1c1c" stroke="#1c1c1c" >2</text>
<text x="238.2" y="408.7" font-size="8.2" text-anchor="middle" fill="#1c1c1c" stroke="#1c1c1c" >10</text>
<text x="243.2" y="405.6" font-size="5.6" fill="#1c1c1c" stroke="#1c1c1c" >3</text>
<text x="259.1" y="408.7" font-size="8.2" text-anchor="middle" fill="#1c1c1c" stroke="#1c1c1c" >10</text>
<text x="264.1" y="405.6" font-size="5.6" fill="#1c1c1c" stroke="#1c1c1c" >4</text>
<text x="218.3" y="306.2" font-size="7.9" text-anchor="middle" textLength="15.1" lengthAdjust="spacingAndGlyphs" fill="#1c1c1c" stroke="#1c1c1c" >KSL</text>
<polygon points="177.2,395.2 178.3,390.4 180.6,384.6 183.5,373 185.8,361.5 187.5,350 188.1,344.5 189.2,333 191,321.5 192.7,316.9 193.2,321.5 194.4,325 196.1,326 197.3,333 199,342 200.8,350 202.5,361.5 204.8,373 207.7,384.6 210.6,392.7 213.5,395.2" fill="#c3c1c6" stroke="none" />
<polyline points="177.2,395.2 186,395 189.8,393.8 193.3,390.4 195.6,382.3 196.8,373 197.9,361.5 198.5,350 199,344.5 199.6,333 200.7,321.5 201.9,316.3 203.6,321.5 204.7,333 205.6,344.5 206.2,350 207.2,361.5 208.9,373 210.6,384.6 213.5,392.7 217.5,394.4 222,395.2 260,395.2" fill="none" stroke="#121212" stroke-width="1.2" stroke-linejoin="round" />
<polyline points="177.2,395.2 186,394.8 191,393.3 192.2,391.5 194,389 196,388.5 197.3,387 199,388 201.4,382.3 203.7,373 205.4,361.5 206.9,350 208,345 209.9,343.3 210.5,333 212.2,321.5 213.9,316.3 215.7,321.5 216.8,333 217.4,344.5 218,352 219.8,361.5 221.6,373 222.7,384.6 224.5,391.5 227.3,394.4 232,395.2 260,395.2" fill="none" stroke="#2b4b8b" stroke-width="1.2" stroke-linejoin="round" />
<polyline points="177.2,395.2 188,395 193.3,394.4 197.9,390.4 200.8,384.6 203.1,373 204.8,361.5 206.2,350 207.5,343 209.3,333 210,325 211,316.3 212,320 212.8,327 214.5,338.7 215.2,345 215.8,350 217.5,361.5 219.3,373 221,384.6 222.7,391.5 225.6,394.4 230,395.2 260,395.2" fill="none" stroke="#4f9ae0" stroke-width="1.2" stroke-linejoin="round" />
<line x1="222.5" y1="320.6" x2="232.7" y2="320.6" stroke="#121212" stroke-width="1.2" />
<text x="235.8" y="323.4" font-size="7.5" fill="#1c1c1c" stroke="#1c1c1c" >Day 0</text>
<line x1="222.5" y1="332.8" x2="232.7" y2="332.8" stroke="#2b4b8b" stroke-width="1.2" />
<text x="235.8" y="335.6" font-size="7.5" fill="#1c1c1c" stroke="#1c1c1c" >Day 3</text>
<line x1="222.5" y1="345" x2="232.7" y2="345" stroke="#4f9ae0" stroke-width="1.2" />
<text x="235.8" y="347.8" font-size="7.5" fill="#1c1c1c" stroke="#1c1c1c" >Day 6</text>
<text transform="translate(28.5,353.5) rotate(-90)" x="0" y="0" font-size="8.4" text-anchor="middle" textLength="36.2" lengthAdjust="spacingAndGlyphs" fill="#1c1c1c" stroke="#1c1c1c" class="cond">Cell number</text>
<polyline points="25.7,386 25.7,418.8 71.5,418.8" fill="none" stroke="#2e2e2e" stroke-width="1.2" stroke-linejoin="round" stroke-linejoin="miter"/>
<polygon points="23.3,386.6 25.7,381.2 28.1,386.6" fill="#2e2e2e"/>
<polygon points="71.0,416.6 76.5,418.8 71.0,421.0" fill="#2e2e2e"/>
<text x="84.2" y="422.5" font-size="9" textLength="25.6" lengthAdjust="spacingAndGlyphs" fill="#1c1c1c" stroke="#1c1c1c" class="cond">C/EBP&#946;</text>
<line x1="302.1" y1="295.9" x2="512.5" y2="295.9" stroke="#606060" stroke-width="1.4" />
<text x="407.5" y="290.9" font-size="7.8" text-anchor="middle" textLength="29.5" lengthAdjust="spacingAndGlyphs" fill="#1c1c1c" stroke="#1c1c1c" >C/EBP&#946;</text>
<line x1="301.1" y1="313.25" x2="301.1" y2="395.5" stroke="#1e1e1e" stroke-width="1.22" />
<line x1="298.3" y1="395.5" x2="301.1" y2="395.5" stroke="#1e1e1e" stroke-width="1.22" />
<text x="294.9" y="398.3" font-size="7.8" text-anchor="end" fill="#1c1c1c" stroke="#1c1c1c" >0</text>
<line x1="298.3" y1="379.65" x2="301.1" y2="379.65" stroke="#1e1e1e" stroke-width="1.22" />
<text x="294.9" y="382.45" font-size="7.8" text-anchor="end" fill="#1c1c1c" stroke="#1c1c1c" >1</text>
<line x1="298.3" y1="363.8" x2="301.1" y2="363.8" stroke="#1e1e1e" stroke-width="1.22" />
<text x="294.9" y="366.6" font-size="7.8" text-anchor="end" fill="#1c1c1c" stroke="#1c1c1c" >2</text>
<line x1="298.3" y1="347.95" x2="301.1" y2="347.95" stroke="#1e1e1e" stroke-width="1.22" />
<text x="294.9" y="350.75" font-size="7.8" text-anchor="end" fill="#1c1c1c" stroke="#1c1c1c" >3</text>
<line x1="298.3" y1="332.1" x2="301.1" y2="332.1" stroke="#1e1e1e" stroke-width="1.22" />
<text x="294.9" y="334.9" font-size="7.8" text-anchor="end" fill="#1c1c1c" stroke="#1c1c1c" >4</text>
<line x1="298.3" y1="316.25" x2="301.1" y2="316.25" stroke="#1e1e1e" stroke-width="1.22" />
<text x="294.9" y="319.05" font-size="7.8" text-anchor="end" fill="#1c1c1c" stroke="#1c1c1c" >5</text>
<line x1="301.1" y1="395.5" x2="393.1" y2="395.5" stroke="#1e1e1e" stroke-width="1.22" />
<line x1="315.9" y1="395.5" x2="315.9" y2="398.5" stroke="#1e1e1e" stroke-width="1.22" />
<line x1="345.7" y1="395.5" x2="345.7" y2="398.5" stroke="#1e1e1e" stroke-width="1.22" />
<line x1="375.3" y1="395.5" x2="375.3" y2="398.5" stroke="#1e1e1e" stroke-width="1.22" />
<line x1="390" y1="395.5" x2="390" y2="398.5" stroke="#1e1e1e" stroke-width="1.22" />
<text x="315.9" y="408.6" font-size="7.8" text-anchor="middle" fill="#1c1c1c" stroke="#1c1c1c" >0</text>
<text x="345.7" y="408.6" font-size="7.8" text-anchor="middle" fill="#1c1c1c" stroke="#1c1c1c" >3</text>
<text x="375.3" y="408.6" font-size="7.8" text-anchor="middle" fill="#1c1c1c" stroke="#1c1c1c" >6</text>
<text x="347.4" y="311" font-size="7.9" text-anchor="middle" textLength="27.8" lengthAdjust="spacingAndGlyphs" fill="#1c1c1c" stroke="#1c1c1c" >LT-HSC</text>
<polyline points="315.8,379.7 345.6,336.2 375.2,343.9" fill="none" stroke="#2e4d8e" stroke-width="1" stroke-linejoin="round" />
<line x1="315.8" y1="379.7" x2="315.8" y2="376.6" stroke="#2a2a2a" stroke-width="0.9" />
<line x1="313.3" y1="376.6" x2="318.3" y2="376.6" stroke="#2a2a2a" stroke-width="1.1" />
<line x1="345.6" y1="336.2" x2="345.6" y2="326.6" stroke="#2a2a2a" stroke-width="0.9" />
<line x1="343.1" y1="326.6" x2="348.1" y2="326.6" stroke="#2a2a2a" stroke-width="1.1" />
<line x1="375.2" y1="343.9" x2="375.2" y2="337.5" stroke="#2a2a2a" stroke-width="0.9" />
<line x1="372.7" y1="337.5" x2="377.7" y2="337.5" stroke="#2a2a2a" stroke-width="1.1" />
<circle cx="315.8" cy="379.7" r="1.9" fill="#2e4d8e"/>
<circle cx="345.6" cy="336.2" r="1.9" fill="#2e4d8e"/>
<circle cx="375.2" cy="343.9" r="1.9" fill="#2e4d8e"/>
<circle cx="342.8" cy="322.5" r="0.85" fill="#111"/>
<circle cx="345.8" cy="322.5" r="0.85" fill="#111"/>
<circle cx="348.8" cy="322.5" r="0.85" fill="#111"/>
<circle cx="372.6" cy="333.5" r="0.85" fill="#111"/>
<circle cx="375.6" cy="333.5" r="0.85" fill="#111"/>
<circle cx="378.6" cy="333.5" r="0.85" fill="#111"/>
<line x1="413.5" y1="313.25" x2="413.5" y2="395.5" stroke="#1e1e1e" stroke-width="1.22" />
<line x1="410.7" y1="395.5" x2="413.5" y2="395.5" stroke="#1e1e1e" stroke-width="1.22" />
<text x="407.3" y="398.3" font-size="7.8" text-anchor="end" fill="#1c1c1c" stroke="#1c1c1c" >0</text>
<line x1="410.7" y1="379.65" x2="413.5" y2="379.65" stroke="#1e1e1e" stroke-width="1.22" />
<text x="407.3" y="382.45" font-size="7.8" text-anchor="end" fill="#1c1c1c" stroke="#1c1c1c" >1</text>
<line x1="410.7" y1="363.8" x2="413.5" y2="363.8" stroke="#1e1e1e" stroke-width="1.22" />
<text x="407.3" y="366.6" font-size="7.8" text-anchor="end" fill="#1c1c1c" stroke="#1c1c1c" >2</text>
<line x1="410.7" y1="347.95" x2="413.5" y2="347.95" stroke="#1e1e1e" stroke-width="1.22" />
<text x="407.3" y="350.75" font-size="7.8" text-anchor="end" fill="#1c1c1c" stroke="#1c1c1c" >3</text>
<line x1="410.7" y1="332.1" x2="413.5" y2="332.1" stroke="#1e1e1e" stroke-width="1.22" />
<text x="407.3" y="334.9" font-size="7.8" text-anchor="end" fill="#1c1c1c" stroke="#1c1c1c" >4</text>
<line x1="410.7" y1="316.25" x2="413.5" y2="316.25" stroke="#1e1e1e" stroke-width="1.22" />
<text x="407.3" y="319.05" font-size="7.8" text-anchor="end" fill="#1c1c1c" stroke="#1c1c1c" >5</text>
<line x1="413.5" y1="395.5" x2="512" y2="395.5" stroke="#1e1e1e" stroke-width="1.22" />
<line x1="429.2" y1="395.5" x2="429.2" y2="398.5" stroke="#1e1e1e" stroke-width="1.22" />
<line x1="461.1" y1="395.5" x2="461.1" y2="398.5" stroke="#1e1e1e" stroke-width="1.22" />
<line x1="493" y1="395.5" x2="493" y2="398.5" stroke="#1e1e1e" stroke-width="1.22" />
<line x1="509.5" y1="395.5" x2="509.5" y2="398.5" stroke="#1e1e1e" stroke-width="1.22" />
<text x="429.2" y="408.6" font-size="7.8" text-anchor="middle" fill="#1c1c1c" stroke="#1c1c1c" >0</text>
<text x="461.1" y="408.6" font-size="7.8" text-anchor="middle" fill="#1c1c1c" stroke="#1c1c1c" >3</text>
<text x="493" y="408.6" font-size="7.8" text-anchor="middle" fill="#1c1c1c" stroke="#1c1c1c" >6</text>
<text x="463" y="311" font-size="7.9" text-anchor="middle" textLength="15.4" lengthAdjust="spacingAndGlyphs" fill="#1c1c1c" stroke="#1c1c1c" >KSL</text>
<polyline points="429.2,380.8 461.1,349.6 492.8,349.2" fill="none" stroke="#2e4d8e" stroke-width="1" stroke-linejoin="round" />
<line x1="429.2" y1="380.8" x2="429.2" y2="378.3" stroke="#2a2a2a" stroke-width="0.9" />
<line x1="426.7" y1="378.3" x2="431.7" y2="378.3" stroke="#2a2a2a" stroke-width="1.1" />
<line x1="461.1" y1="349.6" x2="461.1" y2="344.9" stroke="#2a2a2a" stroke-width="0.9" />
<line x1="458.6" y1="344.9" x2="463.6" y2="344.9" stroke="#2a2a2a" stroke-width="1.1" />
<line x1="492.8" y1="349.2" x2="492.8" y2="346.3" stroke="#2a2a2a" stroke-width="0.9" />
<line x1="490.3" y1="346.3" x2="495.3" y2="346.3" stroke="#2a2a2a" stroke-width="1.1" />
<circle cx="429.2" cy="380.8" r="1.9" fill="#2e4d8e"/>
<circle cx="461.1" cy="349.6" r="1.9" fill="#2e4d8e"/>
<circle cx="492.8" cy="349.2" r="1.9" fill="#2e4d8e"/>
<circle cx="458.2" cy="340.7" r="0.85" fill="#111"/>
<circle cx="461.2" cy="340.7" r="0.85" fill="#111"/>
<circle cx="464.2" cy="340.7" r="0.85" fill="#111"/>
<circle cx="489.9" cy="342.4" r="0.85" fill="#111"/>
<circle cx="492.9" cy="342.4" r="0.85" fill="#111"/>
<circle cx="495.9" cy="342.4" r="0.85" fill="#111"/>
<text transform="translate(284.2,354.1) rotate(-90)" x="0" y="0" font-size="8.8" text-anchor="middle" textLength="39.6" lengthAdjust="spacingAndGlyphs" fill="#1c1c1c" stroke="#1c1c1c" class="cond">C/EBP&#946; MFI</text>
<line x1="300.8" y1="413.9" x2="511.1" y2="413.9" stroke="#606060" stroke-width="1.3" />
<text x="405.6" y="425.6" font-size="9.4" text-anchor="middle" textLength="90.6" lengthAdjust="spacingAndGlyphs" fill="#1c1c1c" stroke="#1c1c1c" class="cond">Days after 5-FU administration</text>
</svg>
</body></html>
